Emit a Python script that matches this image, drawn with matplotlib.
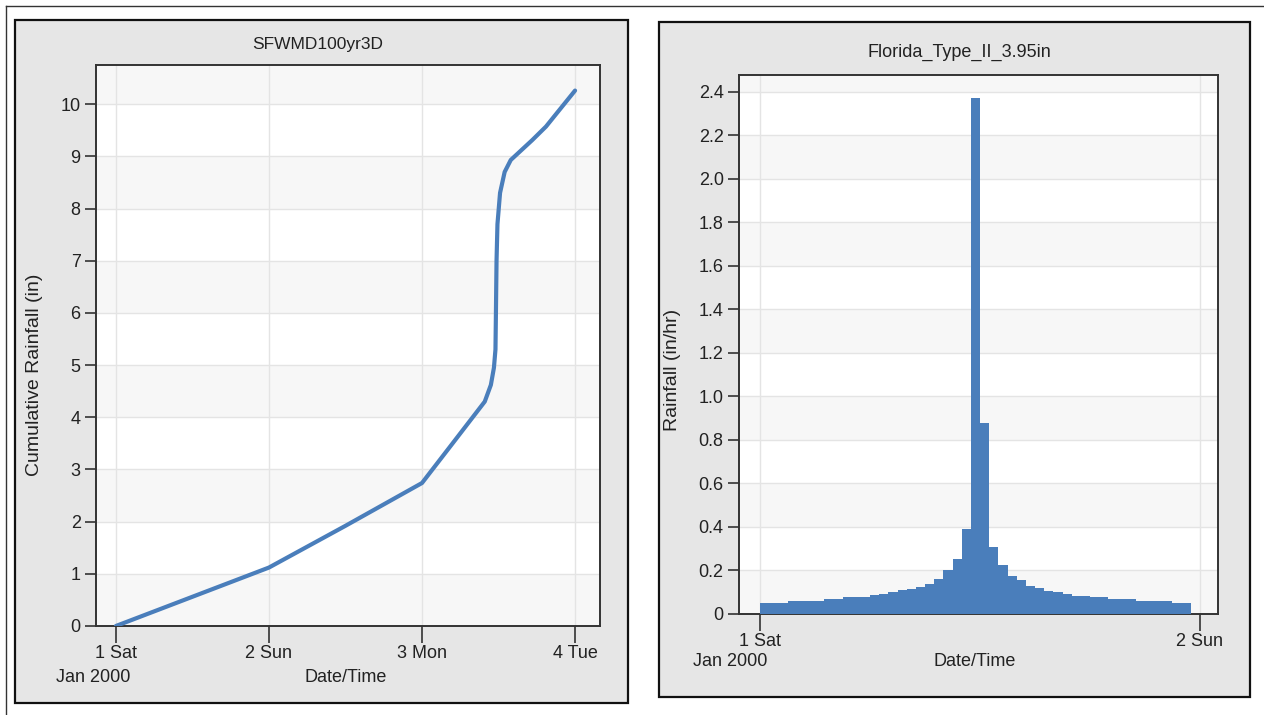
import matplotlib
matplotlib.use("Agg")
import matplotlib.pyplot as plt
from matplotlib.patches import Rectangle
from matplotlib.lines import Line2D
import numpy as np

plt.rcParams['font.family'] = ['Liberation Sans', 'DejaVu Sans']

# SFWMD 100yr 3 day cumulative curve (days since 1 Jan 2000, inches)
cum_days = [0.0, 0.5, 1.0, 1.5, 2.0, 2.2, 2.41, 2.45, 2.47, 2.48, 2.483,
            2.487, 2.493, 2.51, 2.54, 2.58, 2.72, 2.81, 3.0]
cum_rain = [0.0, 0.56, 1.12, 1.92, 2.74, 3.5, 4.30, 4.62, 4.95, 5.3, 6.0,
            7.0, 7.7, 8.3, 8.7, 8.93, 9.31, 9.57, 10.26]

# Florida Type II 3.95in, half-hour intensities (hour start, in/hr)
hyeto_hours = [i * 0.5 for i in range(47)]
hyeto_vals = [0.05, 0.05, 0.05,
              0.059, 0.059, 0.059, 0.059,
              0.067, 0.067,
              0.079, 0.079, 0.079,
              0.086, 0.094, 0.10, 0.109, 0.117, 0.124, 0.136, 0.162,
              0.20, 0.253, 0.39,
              2.37, 0.88, 0.31, 0.226, 0.176, 0.155, 0.127, 0.12,
              0.108, 0.10, 0.092,
              0.085, 0.085,
              0.079, 0.079,
              0.067, 0.067, 0.067,
              0.059, 0.059, 0.059, 0.059,
              0.05, 0.05]

left_ticks = [0, 1, 2, 3]
left_labels = ["1 Sat", "2 Sun", "3 Mon", "4 Tue"]
right_ticks = [0, 1]
right_labels = ["1 Sat", "2 Sun"]

BLUE = "#4a7ebb"
PANEL = "#e6e6e6"
BAND = "#f7f7f7"
GRID = "#e4e4e4"
TXT = "#222222"

W, H = 1264, 715
fig = plt.figure(figsize=(W / 100, H / 100), dpi=100, facecolor="white")


def px(x0, y0, x1, y1):
    return [x0 / W, 1 - y1 / H, (x1 - x0) / W, (y1 - y0) / H]


# outer thin frame lines
fig.add_artist(Line2D([6 / W, 1], [1 - 6 / H, 1 - 6 / H], color="#333", lw=1))
fig.add_artist(Line2D([6 / W, 6 / W], [0, 1 - 6 / H], color="#333", lw=1))

# panels
for (x0, y0, x1, y1) in [(15, 20, 628, 703), (659, 22, 1250, 697)]:
    r = px(x0, y0, x1, y1)
    fig.add_artist(Rectangle((r[0], r[1]), r[2], r[3], transform=fig.transFigure,
                             facecolor=PANEL, edgecolor="#111", lw=1.6, zorder=0))

fs = 13


def style(ax, ymax, step):
    ax.set_facecolor("white")
    k = 0.0
    while k < ymax:
        ax.axhspan(k, k + step, color=BAND, lw=0, zorder=0)
        k += 2 * step
    ax.grid(True, color=GRID, lw=1, zorder=0.5)
    ax.set_axisbelow(True)
    for s in ax.spines.values():
        s.set_color("#333")
        s.set_linewidth(1.4)
    ax.tick_params(direction="out", length=8, width=1.2, color="#333",
                   labelsize=fs, labelcolor=TXT, pad=3)


# left chart
ax1 = fig.add_axes(px(96, 65, 600, 626))
style(ax1, 10.75, 1)
ax1.plot(cum_days, cum_rain, color=BLUE, lw=3, solid_capstyle="round", zorder=3)
ax1.set_xlim(-0.13, 3.163)
ax1.set_ylim(0, 10.75)
ax1.set_yticks(range(0, 11))
ax1.set_xticks(left_ticks)
ax1.set_xticklabels(left_labels)
ax1.tick_params(axis="x", length=12, pad=2)

# right chart
ax2 = fig.add_axes(px(739, 75, 1218, 614))
style(ax2, 2.48, 0.2)
ax2.bar(np.array(hyeto_hours) / 24, hyeto_vals, width=0.5 / 24, align="edge",
        color=BLUE, lw=0, zorder=3)
ax2.set_xlim(-0.048, 1.041)
ax2.set_ylim(0, 2.478)
ax2.set_yticks([round(0.2 * i, 1) for i in range(13)])
ax2.set_yticklabels(["0"] + ["%.1f" % (0.2 * i) for i in range(1, 13)])
ax2.set_xticks(right_ticks)
ax2.set_xticklabels(right_labels)
ax2.tick_params(axis="x", length=12, pad=2)

# texts
fig.text(318 / W, 1 - 44 / H, "SFWMD100yr3D", ha="center", va="center", fontsize=12.5, color=TXT)
fig.text(959 / W, 1 - 52 / H, "Florida_Type_II_3.95in", ha="center", va="center", fontsize=fs, color=TXT)
fig.text(35 / W, 1 - 375 / H, "Cumulative Rainfall (in)", rotation=90, ha="center", va="center", fontsize=14, color=TXT)
fig.text(673 / W, 1 - 370 / H, "Rainfall (in/hr)", rotation=90, ha="center", va="center", fontsize=14, color=TXT)
fig.text(93 / W, 1 - 677 / H, "Jan 2000", ha="center", va="center", fontsize=fs, color=TXT)
fig.text(346 / W, 1 - 677 / H, "Date/Time", ha="center", va="center", fontsize=fs, color=TXT)
fig.text(730 / W, 1 - 662 / H, "Jan 2000", ha="center", va="center", fontsize=fs, color=TXT)
fig.text(975 / W, 1 - 662 / H, "Date/Time", ha="center", va="center", fontsize=fs, color=TXT)

fig.savefig("out.png", dpi=100, facecolor="white")
